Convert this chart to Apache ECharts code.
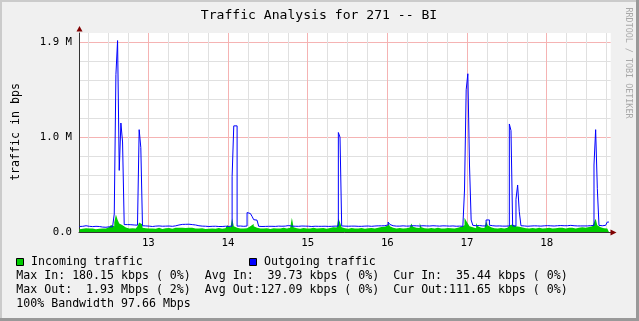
<!DOCTYPE html>
<html><head><meta charset="utf-8">
<script src="https://cdn.jsdelivr.net/npm/echarts@6/dist/echarts.min.js"></script>
<style>html,body{margin:0;padding:0;background:#f0f0f0}#c{width:639px;height:321px}</style>
</head><body><div id="c"></div>
<script>
// ---- data ----
const title = 'Traffic Analysis for 271 -- BI';
const yAxisTitle = 'traffic in bps';
const watermark = 'RRDTOOL / TOBI OETIKER';
const seriesNames = ['Incoming traffic', 'Outgoing traffic'];
const seriesColors = ['#00cc00', '#0000ff'];
// sample grid: day-of-month start, 30-minute step
const sampleStart = 12.135;
const sampleStep = 1 / 48;
const axisStart = 12.13, axisEnd = 18.803;
const yMax = 2100000;
// incoming traffic, kbit/s
const inKbps = [
  30,35,28,40,45,38,32,36,42,30,
  28,34,40,38,30,36,44,52,60,75,
  60,100,184,130,90,70,55,48,42,38,
  35,40,45,38,50,60,100,80,45,40,
  35,38,42,36,30,34,40,44,38,32,
  36,40,45,42,38,35,40,46,50,44,
  40,45,48,42,38,44,50,46,40,36,
  34,38,42,40,36,32,30,34,38,36,
  32,35,40,42,38,34,36,40,44,70,
  50,60,145,60,45,40,36,34,38,42,
  40,45,60,80,85,60,45,40,36,34,
  38,42,40,36,32,35,40,44,38,34,
  36,40,44,42,38,40,45,60,150,50,
  40,36,34,38,42,40,36,34,38,40,
  44,42,38,36,40,45,42,38,35,40,
  42,45,50,55,48,60,145,100,50,40,
  36,34,38,42,40,36,34,38,40,42,
  38,35,38,40,44,42,38,36,40,45,
  48,52,50,55,60,70,100,60,45,40,
  36,38,42,40,38,36,40,44,48,60,
  90,55,45,40,42,95,50,40,36,38,
  40,42,38,36,40,44,42,38,35,38,
  40,42,45,40,38,36,40,44,48,55,
  60,70,150,120,90,60,50,45,40,95,
  60,45,40,42,48,110,70,50,42,40,
  38,36,40,42,38,36,40,44,50,70,
  80,90,60,50,55,60,48,42,40,38,
  36,40,42,38,36,40,44,42,38,36,
  40,42,44,40,38,36,40,42,45,48,
  44,40,38,42,45,48,44,40,38,42,
  45,48,50,46,44,48,52,55,60,80,
  100,140,70,50,45,40,38,36,36,35
];
// outgoing traffic, kbit/s
const outKbps = [
  58,60,64,66,65,60,58,57,58,60,
  59,58,56,52,50,50,52,55,56,55,
  57,190,1660,2020,650,1150,950,78,78,76,
  77,75,74,76,72,70,1080,890,66,64,
  63,62,60,58,60,62,63,64,62,61,
  60,62,64,63,62,60,62,65,70,74,
  78,80,82,81,80,82,80,78,76,74,
  70,66,64,62,60,61,60,58,59,60,
  62,61,60,58,57,58,60,61,60,59,
  60,62,584,1120,1120,62,63,62,60,61,
  63,205,195,180,165,130,125,120,60,58,
  57,59,61,60,62,60,58,59,60,62,
  63,61,60,62,65,68,66,62,60,61,
  59,60,62,63,64,62,60,61,60,58,
  59,61,62,60,59,60,62,61,60,59,
  58,60,61,62,60,62,1050,1000,64,62,
  60,61,60,62,63,62,61,60,59,60,
  61,62,64,63,61,60,62,63,64,65,
  66,65,64,66,68,75,105,80,66,64,
  62,63,62,64,65,64,62,61,63,64,
  66,68,65,64,63,64,66,65,64,62,
  63,64,66,65,64,63,62,64,65,66,
  64,63,62,63,64,62,61,60,62,61,
  60,62,443,1500,1670,707,127,70,66,65,
  68,66,64,65,64,127,127,72,66,64,
  63,62,64,63,62,61,62,63,64,1140,
  1070,64,63,345,496,214,66,64,62,61,
  62,63,64,65,66,64,63,62,63,65,
  66,67,66,65,64,63,64,66,67,68,
  67,66,65,66,68,70,68,66,65,64,
  63,64,65,64,63,64,66,67,68,70,
  707,1080,461,70,66,68,70,72,105,108
];
const statsRows = [
  ['Max In: 180.15 kbps ( 0%)', 'Avg In:  39.73 kbps ( 0%)', 'Cur In:  35.44 kbps ( 0%)'],
  ['Max Out:  1.93 Mbps ( 2%)', 'Avg Out:127.09 kbps ( 0%)', 'Cur Out:111.65 kbps ( 0%)'],
  ['100% Bandwidth 97.66 Mbps']
];

// ---- build ----
const MONO = '"DejaVu Sans Mono", monospace';
function toPairs(arr) {
  return arr.map((v, i) => [sampleStart + i * sampleStep, v * 1000]);
}
function txt(text, x, y, size, opts) {
  opts = opts || {};
  return {
    type: 'text', x: x, y: y, rotation: opts.rotation || 0, z: 50,
    style: {
      text: text, font: size + 'px ' + MONO, fill: opts.fill || '#000',
      align: opts.align || 'left', verticalAlign: 'middle',
      textAlign: opts.align || 'left', textVerticalAlign: 'middle'
    }
  };
}
const graphics = [
  {type:'rect', shape:{x:0,y:0,width:639,height:2}, style:{fill:'#cbcbcb'}, z:40},
  {type:'rect', shape:{x:0,y:0,width:2,height:321}, style:{fill:'#cbcbcb'}, z:40},
  {type:'rect', shape:{x:0,y:318,width:639,height:3}, style:{fill:'#999999'}, z:41},
  {type:'rect', shape:{x:636,y:0,width:3,height:321}, style:{fill:'#999999'}, z:41},
  txt(title, 319, 16, 13.1, {align:'center'}),
  txt(yAxisTitle, 16, 132, 11.6, {align:'center', rotation: Math.PI/2}),
  txt(watermark, 628.5, 63, 8.4, {align:'center', rotation: -Math.PI/2, fill:'#a8a8a8'}),
  {type:'polygon', shape:{points:[[79.5,26],[76.5,31.5],[82.5,31.5]]}, style:{fill:'#800000'}, z:60},
  {type:'polygon', shape:{points:[[616.5,232.5],[610.5,229.5],[610.5,235.5]]}, style:{fill:'#800000'}, z:60},
  {type:'rect', shape:{x:16.5,y:258.5,width:7,height:7}, style:{fill:seriesColors[0], stroke:'#000', lineWidth:1}, z:50},
  txt(seriesNames[0], 31, 262.3, 11.6),
  {type:'rect', shape:{x:249.5,y:258.5,width:7,height:7}, style:{fill:seriesColors[1], stroke:'#000', lineWidth:1}, z:50},
  txt(seriesNames[1], 264, 262.3, 11.6)
];
statsRows.forEach((row, r) => {
  graphics.push(txt(row.join('  '), 16.3, 275.8 + r * 14, 11.6));
});

const chart = echarts.init(document.getElementById('c'), null, {renderer: 'canvas'});
chart.setOption({
  backgroundColor: '#f0f0f0',
  animation: false,
  grid: {left: 79, top: 33, right: 28.3, bottom: 89, show: true, backgroundColor: '#ffffff', borderWidth: 0},
  xAxis: {
    type: 'value', min: axisStart, max: axisEnd, splitNumber: 6,
    axisLine: {show: true, lineStyle: {color: '#333333', width: 1}},
    axisTick: {show: false},
    minorTick: {show: false, splitNumber: 4},
    axisLabel: {
      formatter: v => (Math.abs(v - Math.round(v)) < 1e-6 ? String(Math.round(v)) : ''),
      showMinLabel: false, showMaxLabel: false,
      fontFamily: MONO, fontSize: 10.7, color: '#000', margin: 6
    },
    splitLine: {show: true, showMinLine: false, showMaxLine: false, lineStyle: {color: '#f5b3b3', width: 1}},
    minorSplitLine: {show: true, lineStyle: {color: '#e0e0e0', width: 1}}
  },
  yAxis: {
    type: 'value', min: 0, max: yMax, interval: 1000000,
    axisLine: {show: true, lineStyle: {color: '#333333', width: 1}},
    axisTick: {show: false},
    minorTick: {show: false, splitNumber: 5},
    axisLabel: {
      formatter: v => (v / 1048576).toFixed(1) + (v > 0 ? ' M' : ''),
      showMaxLabel: false,
      fontFamily: MONO, fontSize: 10.7, color: '#000', margin: 7
    },
    splitLine: {show: true, showMinLine: false, showMaxLine: false, lineStyle: {color: '#f5b3b3', width: 1}},
    minorSplitLine: {show: true, lineStyle: {color: '#e0e0e0', width: 1}}
  },
  series: [
    {
      name: seriesNames[0], type: 'line', step: 'end', symbol: 'none',
      data: toPairs(inKbps),
      lineStyle: {width: 0, color: seriesColors[0]},
      itemStyle: {color: seriesColors[0]},
      areaStyle: {color: seriesColors[0], opacity: 1},
      z: 2
    },
    {
      name: seriesNames[1], type: 'line', step: 'end', symbol: 'none',
      data: toPairs(outKbps),
      lineStyle: {width: 1, color: seriesColors[1]},
      itemStyle: {color: seriesColors[1]},
      z: 3
    }
  ],
  graphic: graphics
});
</script></body></html>
